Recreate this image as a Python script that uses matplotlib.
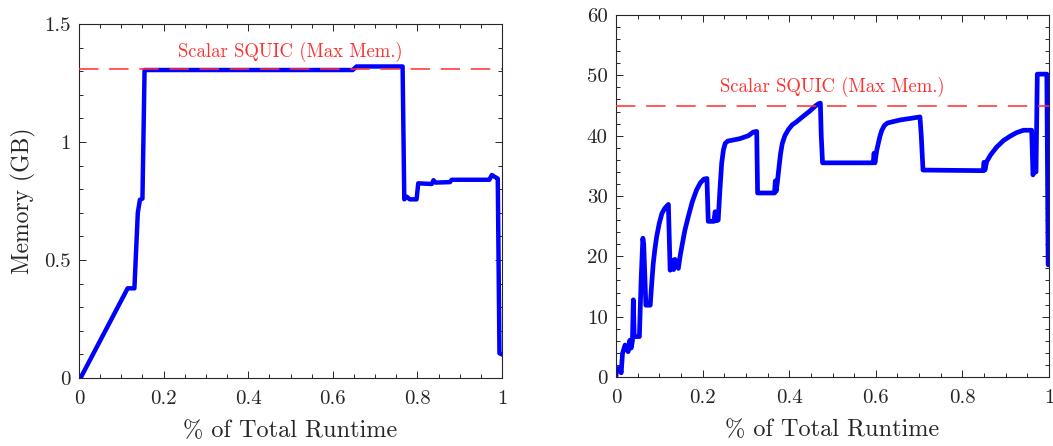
import matplotlib
matplotlib.use("Agg")
import matplotlib.pyplot as plt
from matplotlib.ticker import FixedLocator, MultipleLocator

plt.rcParams['font.family'] = ['cmr10', 'DejaVu Serif']
plt.rcParams['axes.formatter.use_mathtext'] = True
plt.rcParams['mathtext.fontset'] = 'cm'

# ---------------- data ----------------
left_x = [0.006, 0.115, 0.131, 0.139, 0.144, 0.150, 0.155, 0.647, 0.656, 0.765,
          0.769, 0.775, 0.782, 0.798, 0.802, 0.834, 0.838, 0.843, 0.877, 0.881,
          0.970, 0.976, 0.985, 0.990, 0.994, 1.0]
left_y = [0.008, 0.38, 0.38, 0.70, 0.755, 0.76, 1.305, 1.305, 1.32, 1.32,
          0.757, 0.768, 0.757, 0.757, 0.825, 0.822, 0.838, 0.828, 0.83, 0.84,
          0.84, 0.86, 0.85, 0.845, 0.105, 0.1]
left_max = 1.31

right_x = [0.0, 0.002, 0.009, 0.012, 0.015, 0.021, 0.028, 0.032, 0.035, 0.038,
           0.040, 0.042, 0.054, 0.058, 0.062, 0.064, 0.069, 0.079, 0.083, 0.086,
           0.090, 0.094, 0.100, 0.106, 0.113, 0.121, 0.125, 0.130, 0.133, 0.136,
           0.144, 0.148, 0.152, 0.159, 0.167, 0.176, 0.186, 0.195, 0.203, 0.210,
           0.213, 0.217, 0.226, 0.229, 0.232, 0.236, 0.240, 0.244, 0.248, 0.252,
           0.258, 0.286, 0.306, 0.317, 0.325, 0.327, 0.366, 0.368, 0.370, 0.373,
           0.376, 0.380, 0.384, 0.390, 0.398, 0.407, 0.417, 0.432, 0.448, 0.460,
           0.468, 0.472, 0.474, 0.477, 0.594, 0.596, 0.598, 0.602, 0.606, 0.610,
           0.614, 0.620, 0.627, 0.656, 0.702, 0.705, 0.709, 0.848, 0.850, 0.852,
           0.856, 0.865, 0.879, 0.895, 0.910, 0.925, 0.941, 0.960, 0.963, 0.965,
           0.968, 0.970, 0.973, 0.995, 0.998, 1.0]
right_y = [0.2, 1.4, 1.4, 0.7, 3.9, 5.3, 4.2, 6.1, 4.8, 6.0,
           12.8, 6.7, 6.7, 16.0, 23.0, 22.0, 11.9, 11.9, 16.0, 18.8,
           21.3, 23.3, 25.5, 27.1, 28.0, 28.6, 17.7, 19.3, 17.8, 19.5,
           18.0, 20.0, 21.6, 24.3, 26.6, 29.0, 31.0, 32.2, 32.8, 32.9,
           25.8, 25.8, 25.8, 27.4, 25.9, 26.0, 31.0, 35.4, 37.6, 38.7,
           39.1, 39.5, 40.0, 40.6, 40.7, 30.5, 30.5, 32.5, 30.8, 32.5,
           34.5, 37.0, 38.7, 40.0, 41.0, 41.8, 42.3, 43.2, 44.1, 44.9,
           45.3, 45.4, 40.0, 35.5, 35.5, 37.1, 35.5, 37.5, 38.8, 40.0,
           40.9, 41.7, 42.1, 42.6, 43.1, 40.0, 34.3, 34.2, 35.6, 34.3,
           35.7, 36.8, 38.1, 39.2, 39.9, 40.5, 40.9, 40.9, 33.5, 34.0,
           34.3, 34.0, 50.2, 50.2, 18.6, 18.6]
right_max = 45.0

x_ticks = [0, 0.2, 0.4, 0.6, 0.8, 1]
x_ticklabels = ['0', '0.2', '0.4', '0.6', '0.8', '1']
left_yticks = [0, 0.5, 1, 1.5]
left_yticklabels = ['0', '0.5', '1', '1.5']
right_yticks = [0, 10, 20, 30, 40, 50, 60]
right_yticklabels = ['0', '10', '20', '30', '40', '50', '60']

label_text = 'Scalar SQUIC (Max Mem.)'
xlabel_text = '% of Total Runtime'
ylabel_text = 'Memory (GB)'

# ---------------- figure ----------------
fig = plt.figure(figsize=(10.53, 4.46), dpi=100)
axL = fig.add_axes([79/1053, 68/446, 423/1053, 354/446])
axR = fig.add_axes([616/1053, 69/446, 433/1053, 362/446])

blue = '#0000FF'
red = '#FF3030'
gray = '#262626'


def style(ax, yticks, yticklabels, yminor, ylim):
    ax.set_xlim(0, 1)
    ax.set_ylim(*ylim)
    ax.xaxis.set_major_locator(FixedLocator(x_ticks))
    ax.set_xticklabels(x_ticklabels)
    ax.xaxis.set_minor_locator(MultipleLocator(0.05))
    ax.yaxis.set_major_locator(FixedLocator(yticks))
    ax.set_yticklabels(yticklabels)
    ax.yaxis.set_minor_locator(MultipleLocator(yminor))
    ax.tick_params(which='both', direction='in', top=True, right=True,
                   color=gray, labelcolor=gray, labelsize=15, width=0.7)
    ax.tick_params(which='major', length=5)
    ax.tick_params(axis='x', which='major', pad=9)
    ax.tick_params(axis='y', which='major', pad=6)
    ax.tick_params(which='minor', length=3)
    for s in ax.spines.values():
        s.set_color(gray)
        s.set_linewidth(0.8)
    ax.set_xlabel(xlabel_text, fontsize=17.5, color=gray, labelpad=8)


axL.plot(left_x, left_y, color=blue, lw=3.2, solid_joinstyle='round', zorder=2)
axL.axhline(left_max, color=red, alpha=0.8, lw=1.4, dashes=(10, 5.5), zorder=3)
axL.text(0.5, 1.38, label_text, color=red, fontsize=13.5, ha='center', va='center')
style(axL, left_yticks, left_yticklabels, 0.1, (0, 1.5))
axL.set_ylabel(ylabel_text, fontsize=17, color=gray, labelpad=6)

axR.plot(right_x, right_y, color=blue, lw=3.4, solid_joinstyle='round', zorder=2)
axR.axhline(right_max, color=red, alpha=0.8, lw=1.4, dashes=(10, 5.5), zorder=3)
axR.text(0.5, 48.0, label_text, color=red, fontsize=13.5, ha='center', va='center')
style(axR, right_yticks, right_yticklabels, 2, (0, 60))

fig.savefig('out.png', dpi=100)
